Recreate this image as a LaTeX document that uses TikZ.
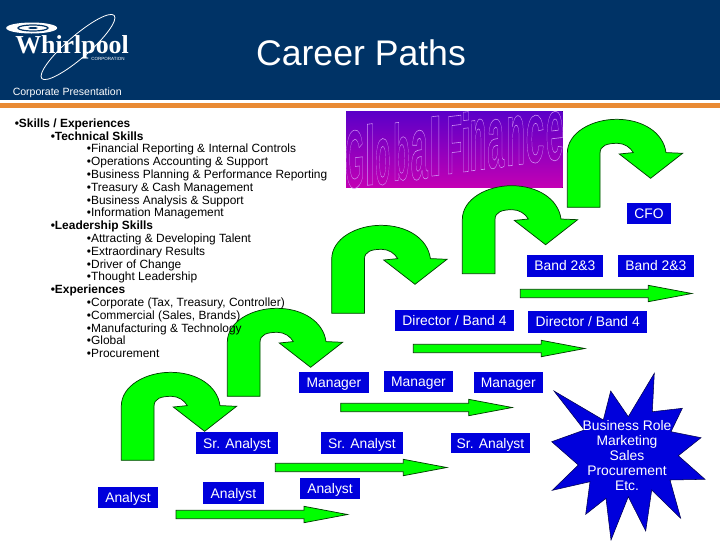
\documentclass[tikz,border=0pt]{standalone}
\usepackage{fontspec}
\setmainfont{Liberation Sans}
\newfontfamily\logofont{Liberation Serif}
\usetikzlibrary{shapes.geometric}
\definecolor{navy}{HTML}{003366}
\definecolor{orangebar}{HTML}{E98A33}
\definecolor{boxblue}{HTML}{0000DC}
\definecolor{arrowgreen}{HTML}{00FF00}
\definecolor{wordtop}{HTML}{5A00C8}
\definecolor{wordbot}{HTML}{C400B4}
\tikzset{
  bluebox/.style={fill=boxblue,text=white,inner sep=0pt,text height=7.5pt,text depth=0pt,font=\fontsize{10.4}{12}\selectfont},
  listtext/.style={anchor=base west,inner sep=0pt,font=\fontsize{8.95}{10}\selectfont},
  listbold/.style={listtext,font=\fontsize{8.95}{10}\selectfont\bfseries},
  arrowshape/.style={fill=arrowgreen,draw=black!75!green,line width=0.55pt,line join=miter},
  pics/uturn/.style={code={
    \path[arrowshape] (0,0)--(0,-54) .. controls (0,-75) and (25,-88) .. (49.3,-88)
      .. controls (75,-88) and (96,-75) .. (98.7,-54.7) -- (115.3,-54) -- (83.3,-29)
      -- (52,-53.3) -- (66,-54.7) .. controls (63,-60) and (57,-64) .. (50,-64)
      .. controls (40,-64) and (32.7,-62) .. (32.7,-54) -- (32.7,0) -- cycle;
  }},
  pics/longarrow/.style={code={
    \path[arrowshape] (0,-4.2)--(128,-4.2)--(128,-8.2)--(171.5,0)--(128,8.2)--(128,4.2)--(0,4.2)--cycle;
  }},
}
\begin{document}
\begin{tikzpicture}[x=0.75pt,y=-0.75pt]
\useasboundingbox (0,0) rectangle (720,540);
\fill[white] (0,0) rectangle (720,540);
% header
\fill[navy] (0,0) rectangle (720,100);
\fill[orangebar] (0,102.7) rectangle (720,108);
\node[text=white,inner sep=0pt,font=\fontsize{26.7}{30}\selectfont] (title) at (361,52.5) {Career Paths};
\node[text=white,inner sep=0pt,anchor=west,font=\fontsize{7.9}{9}\selectfont] (corp) at (12.5,92.5) {Corporate Presentation};
% logo
\draw[white,line width=0.6pt] (78,47) ellipse [x radius=48,y radius=11,rotate=41];
\fill[white] (31.7,28) ellipse [x radius=25.5,y radius=5.5];
\draw[navy,line width=0.9pt] (33,28) ellipse [x radius=15,y radius=3];
\fill[navy] (33,28) ellipse [x radius=5,y radius=1];
\node[text=white,inner sep=0pt,anchor=base west,font=\logofont\bfseries\fontsize{19.4}{22}\selectfont] (logo) at (15,53.5) {Whirlpool};
\node[text=white,inner sep=0pt,anchor=west,font=\fontsize{3.4}{4}\selectfont] (logosub) at (91,58.5) {CORPORATION};
% Global Finance word art
\fill[top color=wordtop,bottom color=wordbot] (346,111) rectangle (562.7,187.7);
\foreach \ch/\zx/\zw/\zb/\zt/\ink/\hh in {
  G/44/50/248/65/.68/.74, l/90/16/240/58/.14/.72, o/128/40/238/100/.54/.54,
  b/184/42/225/50/.52/.73, a/238/46/222/75/.50/.54, l/286/22/212/35/.14/.72,
  F/343/37/205/25/.50/.72, i/378/15/200/22/.14/.72, n/414/40/195/45/.48/.53,
  a/467/45/188/42/.50/.54, n/527/45/180/35/.48/.53, c/585/50/172/30/.50/.54,
  e/644/48/165/18/.50/.54}{
  \pgfmathsetmacro{\sx}{\zw/3*0.75/(\ink*10)}
  \pgfmathsetmacro{\sy}{(\zb-\zt)/3*0.75/(\hh*10)}
  \pgfmathsetmacro{\slope}{0.12*\sx}
  \pgfmathsetmacro{\px}{340+\zx/3}
  \pgfmathsetmacro{\py}{105+\zb/3}
  \begin{scope}[cm={\sx,\slope,0,\sy,(\px,\py)}]
    \node[transform shape,inner sep=0pt,anchor=base,font=\bfseries\fontsize{10}{12}\selectfont,text=white] at (0,0)
      {\special{pdf:code q 1 Tr 0.07 w 0.82 0.58 0.96 RG}\ch\special{pdf:code Q}};
  \end{scope}
}
% curved arrows
\pic at (567.3,207.3) {uturn};
\pic at (462.3,273.7) {uturn};
\pic at (331.7,313.3) {uturn};
\pic at (227.3,396.3) {uturn};
\pic at (121.3,460.3) {uturn};
% straight arrows
\pic at (520.3,293.5) {longarrow};
\pic at (413.3,348.5) {longarrow};
\pic at (340.7,407.5) {longarrow};
\pic at (275.3,467.5) {longarrow};
\pic at (176,514.5) {longarrow};
% boxes
\node[bluebox,minimum width=32.8pt,minimum height=16pt] (cfo) at (648.9,213.7) {CFO};
\node[bluebox,minimum width=56.8pt,minimum height=16.3pt] (banda) at (564.9,265.9) {Band 2\&3};
\node[bluebox,minimum width=56.8pt,minimum height=16.3pt] (bandb) at (655.9,265.9) {Band 2\&3};
\node[bluebox,minimum width=89.3pt,minimum height=15.5pt] (dira) at (454.5,320.4) {Director / Band 4};
\node[bluebox,minimum width=89.3pt,minimum height=16.3pt] (dirb) at (587.7,321.9) {Director / Band 4};
\node[bluebox,minimum width=52.3pt,minimum height=15.5pt] (mgra) at (333.9,382.4) {Manager};
\node[bluebox,minimum width=52pt,minimum height=15.7pt] (mgrb) at (418.5,381.5) {Manager};
\node[bluebox,minimum width=51.5pt,minimum height=15.5pt] (mgrc) at (508.3,382.4) {Manager};
\node[bluebox,minimum width=61.5pt,minimum height=16.3pt] (sra) at (237,443.2) {Sr. Analyst};
\node[bluebox,minimum width=61.5pt,minimum height=16.3pt] (srb) at (362,443.2) {Sr. Analyst};
\node[bluebox,minimum width=59pt,minimum height=15pt] (src) at (490.5,443) {Sr. Analyst};
\node[bluebox,minimum width=45pt,minimum height=15.8pt] (ana) at (128,497.5) {Analyst};
\node[bluebox,minimum width=45.5pt,minimum height=16pt] (anb) at (233.4,493) {Analyst};
\node[bluebox,minimum width=45pt,minimum height=15.8pt] (anc) at (330,488.5) {Analyst};
% star
\path[fill=boxblue,draw=black!70!blue,line width=0.4pt] (654.3,373.3)--(652.3,411.7)--(682.3,408.3)--(671,431.7)
  --(701,437.7)--(678.3,455.7)--(705,479.3)--(670,480)--(680.7,518.3)--(651.7,490)
  --(645.7,531)--(628.3,496.7)--(611,540)--(606,498.3)--(585.7,514.3)--(590,481.7)
  --(552.3,490.3)--(578.3,465)--(551.7,441.7)--(584.3,430)--(554,391)--(603.3,420)
  --(610.7,391)--(628.3,416.7)--cycle;
\node[text=white,align=center,inner sep=0pt,font=\fontsize{10.4}{11.25}\selectfont] (startext) at (627,456)
  {Business Role\\Marketing\\Sales\\Procurement\\Etc.};
% list
\node[listbold] (s1) at (14.5,127.3) {•Skills / Experiences};
\node[listbold] (s2) at (50.5,140) {•Technical Skills};
\node[listtext] (s3) at (86.7,152.8) {•Financial Reporting \& Internal Controls};
\node[listtext] (s4) at (86.7,165.6) {•Operations Accounting \& Support};
\node[listtext] (s5) at (86.7,178.4) {•Business Planning \& Performance Reporting};
\node[listtext] (s6) at (86.7,191.2) {•Treasury \& Cash Management};
\node[listtext] (s7) at (86.7,204) {•Business Analysis \& Support};
\node[listtext] (s8) at (86.7,216.8) {•Information Management};
\node[listbold] (s9) at (50.5,229.4) {•Leadership Skills};
\node[listtext] (s10) at (86.7,242.2) {•Attracting \& Developing Talent};
\node[listtext] (s11) at (86.7,255) {•Extraordinary Results};
\node[listtext] (s12) at (86.7,268) {•Driver of Change};
\node[listtext] (s13) at (86.7,280.8) {•Thought Leadership};
\node[listbold] (s14) at (50.5,293.6) {•Experiences};
\node[listtext] (s15) at (86.7,306.4) {•Corporate (Tax, Treasury, Controller)};
\node[listtext] (s16) at (86.7,319.2) {•Commercial (Sales, Brands)};
\node[listtext] (s17) at (86.7,332) {•Manufacturing \& Technology};
\node[listtext] (s18) at (86.7,344.8) {•Global};
\node[listtext] (s19) at (86.7,357.6) {•Procurement};
\end{tikzpicture}
\end{document}
